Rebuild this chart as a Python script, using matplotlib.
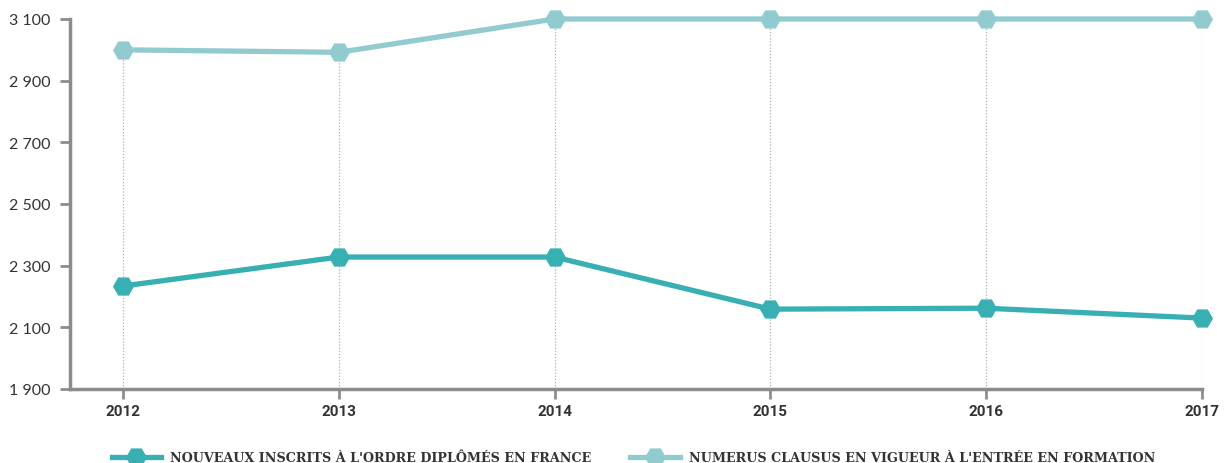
import matplotlib
matplotlib.use("Agg")
import matplotlib.pyplot as plt
from matplotlib.ticker import FuncFormatter

# Données
annees = [2012, 2013, 2014, 2015, 2016, 2017]
nouveaux_inscrits = [2234, 2328, 2328, 2159, 2162, 2130]
numerus_clausus = [3000, 2992, 3100, 3100, 3100, 3100]
labels = ["NOUVEAUX INSCRITS À L'ORDRE DIPLÔMÉS EN FRANCE",
          "NUMERUS CLAUSUS EN VIGUEUR À L'ENTRÉE EN FORMATION"]
yticks = [1900, 2100, 2300, 2500, 2700, 2900, 3100]

fonce = "#38afb3"
clair = "#92cbcf"
gris = "#8c8c8c"

fig = plt.figure(figsize=(12.24, 4.64), dpi=100)
ax = fig.add_axes([70/1224, 1 - 390/464, (1202 - 70)/1224, 370/464])

# lignes pointillées verticales
ax.vlines(annees, 1900, numerus_clausus, colors="#b0b0b0",
          linestyles=(0, (1, 1.5)), linewidth=0.9, zorder=1)

ax.plot(annees, nouveaux_inscrits, color=fonce, linewidth=3.8,
        marker="H", markersize=14, clip_on=False, zorder=3, label=labels[0])
ax.plot(annees, numerus_clausus, color=clair, linewidth=3.8,
        marker="H", markersize=14, clip_on=False, zorder=3, label=labels[1])

ax.set_ylim(1900, 3100)
ax.set_xlim(2012 - 53/215.8, 2017)
ax.set_yticks(yticks)
ax.set_xticks(annees)
ax.yaxis.set_major_formatter(FuncFormatter(lambda v, p: f"{int(v):,}".replace(",", " ")))

for s in ["top", "right"]:
    ax.spines[s].set_visible(False)
for s in ["left", "bottom"]:
    ax.spines[s].set_color(gris)
    ax.spines[s].set_linewidth(2.5)

ax.tick_params(axis="y", length=7, width=2, color=gris, pad=7,
               labelsize=11.5, labelcolor="#333333")
ax.tick_params(axis="x", length=7, width=2, color=gris, pad=4,
               labelsize=11, labelcolor="#333333")
for t in ax.get_yticklabels():
    t.set_family("Lato")
for t in ax.get_xticklabels():
    t.set_family("Roboto")
    t.set_fontweight("bold")

leg = fig.legend(loc="lower left", bbox_to_anchor=(100/1224, -0.028), ncol=2,
                 frameon=False, handlelength=3.9, columnspacing=3.0,
                 handletextpad=0.7,
                 prop={"family": "DejaVu Serif", "weight": "bold", "size": 9.2})
for t in leg.get_texts():
    t.set_color("#333333")

fig.savefig("out.png", dpi=100)
